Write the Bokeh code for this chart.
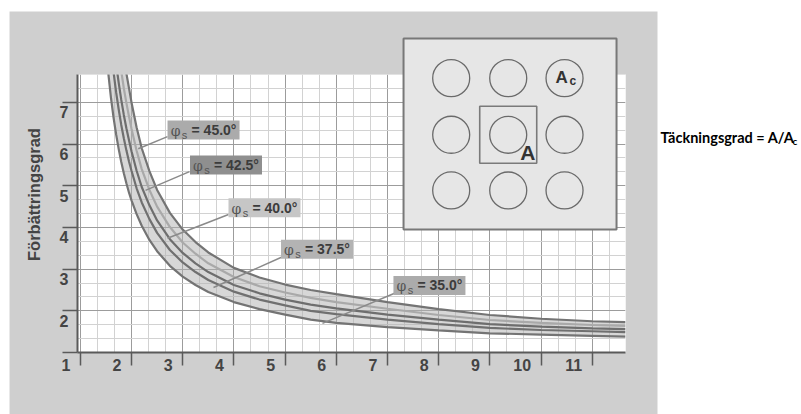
import math
from bokeh.plotting import figure
from bokeh.models import FixedTicker, Range1d
from bokeh.core.properties import value
from bokeh.embed import file_html
from bokeh.resources import INLINE

# ---------------- data ----------------
ratio = [1.5, 1.55, 1.6, 1.65, 1.7, 1.75, 1.8, 1.85, 1.9, 1.95, 2.0, 2.1, 2.2, 2.35, 2.5,
         2.75, 3.0, 3.25, 3.5, 4.0, 4.5, 5.0, 5.5, 6.0, 7.0, 8.0, 9.0, 10.0, 11.0, 11.65]
n_35 = [8.33, 7.66, 7.10, 6.63, 6.23, 5.88, 5.57, 5.30, 5.06, 4.84, 4.65, 4.32, 4.04, 3.70, 3.43,
        3.08, 2.82, 2.62, 2.45, 2.21, 2.04, 1.91, 1.79, 1.71, 1.61, 1.53, 1.46, 1.43, 1.40, 1.38]
n_375 = [9.70, 8.93, 8.27, 7.72, 7.24, 6.83, 6.46, 6.14, 5.85, 5.59, 5.36, 4.94, 4.60, 4.20, 3.87,
         3.46, 3.16, 2.93, 2.74, 2.46, 2.27, 2.13, 2.00, 1.92, 1.79, 1.68, 1.59, 1.54, 1.51, 1.49]
n_40 = [10.62, 9.78, 9.05, 8.44, 7.92, 7.47, 7.06, 6.70, 6.38, 6.10, 5.83, 5.36, 4.97, 4.53, 4.17,
        3.72, 3.39, 3.14, 2.93, 2.62, 2.42, 2.27, 2.15, 2.06, 1.91, 1.79, 1.68, 1.62, 1.58, 1.56]
n_425 = [11.67, 10.76, 9.95, 9.27, 8.69, 8.19, 7.75, 7.34, 6.99, 6.67, 6.37, 5.84, 5.40, 4.90, 4.50,
         4.01, 3.64, 3.37, 3.14, 2.81, 2.59, 2.44, 2.31, 2.21, 2.05, 1.90, 1.78, 1.71, 1.66, 1.64]
n_45 = [12.9, 11.9, 11.0, 10.25, 9.6, 9.05, 8.55, 8.1, 7.7, 7.35, 7.0, 6.4, 5.9, 5.35, 4.9,
        4.35, 3.95, 3.65, 3.4, 3.03, 2.8, 2.63, 2.5, 2.4, 2.21, 2.04, 1.90, 1.81, 1.75, 1.73]

angles = ["45.0", "42.5", "40.0", "37.5", "35.0"]
x_ticks = [1, 2, 3, 4, 5, 6, 7, 8, 9, 10, 11]
x_tick_labels = ["1", "2", "3", "4", "5", "6", "7", "8", "9", "10", "11"]
y_ticks = [1, 2, 3, 4, 5, 6, 7]
y_tick_labels = ["2", "3", "4", "5", "6", "7"]
y_title = "Förbättringsgrad"
x_title = "Täckningsgrad = A/A"
x_title_sub = "c"

# ---------------- layout / style ----------------
X0, X1 = 0.945, 11.65
Y0, Y1 = 1.0, 7.67
GRAY = "#cfcfcf"
FONT = value("Liberation Sans")

p = figure(width=801, height=414, output_backend="svg", toolbar_location=None,
           x_range=Range1d(X0, X1), y_range=Range1d(Y0, Y1),
           min_border_left=77, min_border_right=176, min_border_top=74, min_border_bottom=62)
p.border_fill_color = GRAY
p.background_fill_color = "white"
p.outline_line_color = None

minor_x = [1 + i / 3 for i in range(0, 33) if i % 3 != 0]
minor_y = [1 + i / 3 for i in range(0, 21) if i % 3 != 0]
p.xaxis.ticker = FixedTicker(ticks=x_ticks, minor_ticks=minor_x)
p.yaxis.ticker = FixedTicker(ticks=y_ticks, minor_ticks=minor_y)
for ax, tout in ((p.xaxis, 13), (p.yaxis, 15)):
    ax.major_label_text_color = None
    ax.major_tick_out = tout
    ax.major_tick_in = 0
    ax.minor_tick_out = 0
    ax.minor_tick_in = 0
    ax.axis_line_color = "#5a5a5a"
    ax.axis_line_width = 2
    ax.major_tick_line_color = "#5a5a5a"
    ax.major_tick_line_width = 1.5
for g in (p.xgrid, p.ygrid):
    g.grid_line_color = "#9c9c9c"
    g.grid_line_width = 1
    g.minor_grid_line_color = "#d2d2d2"
    g.minor_grid_line_width = 1

# band between outer curves
p.varea(x=ratio, y1=n_35, y2=n_45, fill_color="#b0b0b0", fill_alpha=0.5)

curves = [(n_45, "#747474"), (n_425, "#a9a9a9"), (n_40, "#6e6e6e"), (n_375, "#707070"), (n_35, "#747474")]
for ys, col in curves:
    p.line(ratio, ys, line_color=col, line_width=2.2)

# leader lines + labels
lead_x0 = [2.703, 3.133, 3.895, 4.94, 7.14]
lead_y0 = [6.18, 5.34, 4.31, 3.29, 2.42]
lead_x1 = [2.131, 2.274, 2.703, 3.602, 5.731]
lead_y1 = [5.89, 4.89, 3.74, 2.56, 1.70]
p.segment(x0=lead_x0, y0=lead_y0, x1=lead_x1, y1=lead_y1, line_color="#8a8a8a", line_width=1.5)

box_x = [3.407, 3.846, 4.598, 5.624, 7.82]
box_y = [6.34, 5.50, 4.47, 3.48, 2.61]
box_col = ["#ababab", "#8f8f8f", "#c6c6c6", "#b3b3b3", "#ababab"]
p.rect(x=box_x, y=box_y, width=72, height=19, width_units="screen", height_units="screen",
       fill_color=box_col, line_color=None)
p.text(x=box_x, y=box_y, text=["φ"] * 5, x_offset=-28, y_offset=1, text_align="center",
       text_baseline="middle", text_font=value("DejaVu Serif"), text_font_size="14px",
       text_color="#555555")
p.text(x=box_x, y=box_y, text=["s"] * 5, x_offset=-19, y_offset=5, text_align="center",
       text_baseline="middle", text_font=FONT, text_font_size="11px", text_color="#555555")
p.text(x=box_x, y=box_y, text=["= " + a + "°" for a in angles], x_offset=-12, y_offset=0,
       text_align="left", text_baseline="middle", text_font=FONT, text_font_style="bold",
       text_font_size="14px", text_color="#3c3c3c")

# tick labels (placed beside the ticks, as in the original)
p.text(x=x_ticks, y=[Y0] * len(x_ticks), text=x_tick_labels, x_offset=-10, y_offset=6,
       text_align="right", text_baseline="top", text_font=FONT, text_font_style="bold",
       text_font_size="16px", text_color="#444444", level="overlay")
p.text(x=[X0] * len(y_tick_labels), y=y_ticks[1:], text=y_tick_labels, x_offset=-9, y_offset=10,
       text_align="right", text_baseline="middle", text_font=FONT, text_font_style="bold",
       text_font_size="16px", text_color="#444444", level="overlay")

# y title
p.text(x=[0.086], y=[4.79], text=[y_title], angle=math.pi / 2, text_align="center",
       text_baseline="middle", text_font=FONT, text_font_style="bold", text_font_size="16.5px",
       text_color="#444444", level="overlay")

# inset diagram
p.quad(left=[7.314], right=[11.475], bottom=[3.952], top=[8.535], fill_color="#e6e6e6",
       line_color="#787878", line_width=2, level="overlay")
cx = [8.245, 9.359, 10.459]
cy = [7.583, 6.224, 4.888]
p.scatter(x=[a for b in cy for a in cx], y=[b for b in cy for a in cx], marker="circle", size=37,
          fill_color=None, line_color="#6a6a6a", line_width=1.3, level="overlay")
p.rect(x=[cx[1]], y=[cy[1]], width=57, height=57, width_units="screen", height_units="screen",
       fill_color=None, line_color="#7a7a7a", line_width=1.6, level="overlay")
p.text(x=[cx[1]], y=[cy[1]], text=["A"], x_offset=12, y_offset=29, text_align="left",
       text_baseline="bottom", text_font=FONT, text_font_style="bold", text_font_size="21px",
       text_color="#333333", level="overlay")
p.text(x=[cx[2]], y=[cy[0]], text=["A"], x_offset=-9, y_offset=9, text_align="left",
       text_baseline="bottom", text_font=FONT, text_font_style="bold", text_font_size="17px",
       text_color="#333333", level="overlay")
p.text(x=[cx[2]], y=[cy[0]], text=["c"], x_offset=5, y_offset=10, text_align="left",
       text_baseline="bottom", text_font=FONT, text_font_style="bold", text_font_size="12px",
       text_color="#333333", level="overlay")

# white page around the gray panel, with the x title on the right
p.quad(left=[12.275, -2.0], right=[16.0, -0.383], bottom=[-2.0, -2.0], top=[12.0, 12.0],
       fill_color="white", line_color=None, level="overlay")
p.quad(left=[-2.0], right=[16.0], bottom=[9.183], top=[12.0],
       fill_color="white", line_color=None, level="overlay")
p.text(x=[12.334], y=[6.16], text=[x_title], text_align="left", text_baseline="middle",
       text_font=value("Lato"), text_font_style="bold", text_font_size="14.5px", text_color="black",
       level="overlay")
p.text(x=[12.334], y=[6.16], text=[x_title_sub], x_offset=132, y_offset=4, text_align="left",
       text_baseline="middle", text_font=value("Lato"), text_font_style="bold",
       text_font_size="10px", text_color="black", level="overlay")

open("out.html", "w").write(file_html(p, INLINE))
